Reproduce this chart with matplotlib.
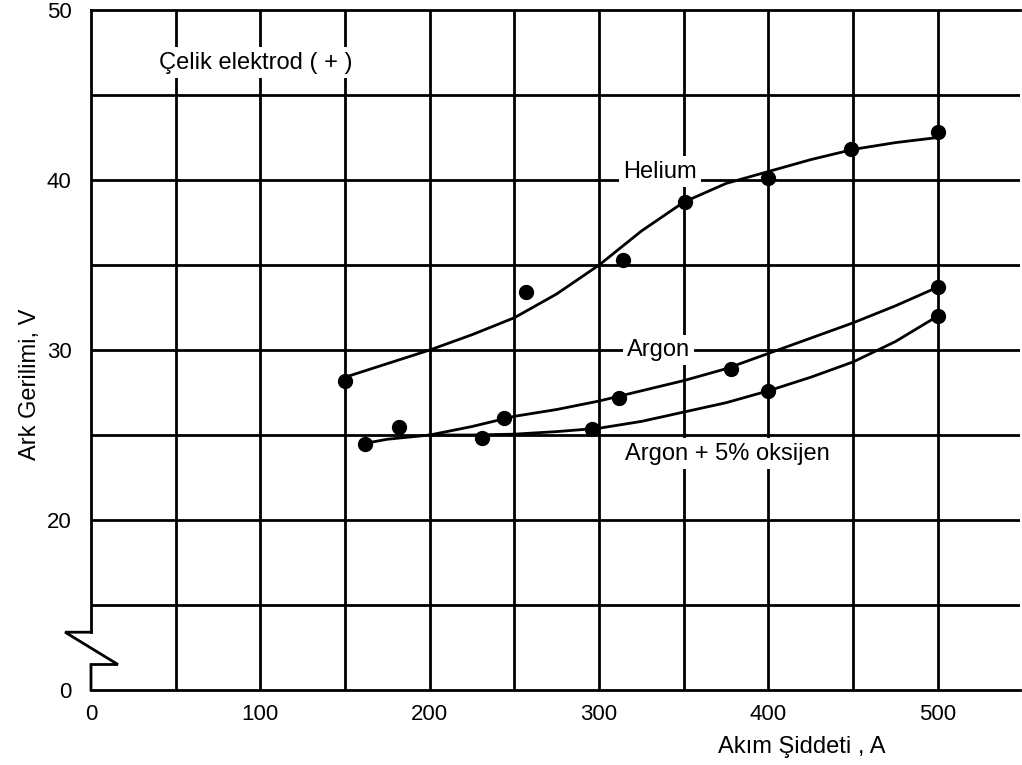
import matplotlib
matplotlib.use("Agg")
import matplotlib.pyplot as plt

# ---- data ----
he_x = [150, 257, 314, 351, 400, 449, 500]
he_y = [28.2, 33.4, 35.3, 38.7, 40.1, 41.8, 42.8]
ar_x = [162, 182, 244, 312, 378, 500]
ar_y = [24.5, 25.5, 26.0, 27.2, 28.9, 33.7]
ox_x = [231, 296, 400, 500]
ox_y = [24.8, 25.35, 27.6, 32.0]

# fitted curves
he_cx = [150, 175, 200, 225, 250, 275, 300, 325, 350, 375, 400, 425, 450, 475, 500]
he_cy = [28.4, 29.2, 30.0, 30.9, 31.9, 33.3, 35.0, 37.0, 38.7, 39.8, 40.5, 41.2, 41.8, 42.2, 42.5]
ar_cx = [164, 175, 200, 225, 250, 275, 300, 325, 350, 375, 400, 425, 450, 475, 500]
ar_cy = [24.55, 24.75, 25.0, 25.5, 26.1, 26.5, 27.0, 27.6, 28.2, 28.9, 29.8, 30.7, 31.6, 32.6, 33.7]
ox_cx = [200, 225, 250, 275, 300, 325, 350, 375, 400, 425, 450, 475, 500]
ox_cy = [25.0, 25.0, 25.05, 25.2, 25.4, 25.8, 26.35, 26.9, 27.6, 28.4, 29.3, 30.5, 32.0]

x_ticks = [0, 100, 200, 300, 400, 500]
y_ticks = [10, 20, 30, 40, 50]
y_tick_labels = ["0", "20", "30", "40", "50"]

FONT = ["Liberation Sans", "DejaVu Sans"]
plt.rcParams["font.family"] = FONT

fig = plt.figure(figsize=(10.22, 7.65), dpi=100)
ax = fig.add_axes([91 / 1022, 75 / 765, 929 / 1022, 680 / 765])
ax.set_xlim(0, 548.5)
ax.set_ylim(10, 50)

LW = 2.0
# grid
for gx in range(50, 549, 50):
    ax.axvline(gx, color="black", lw=LW, zorder=1)
for gy in range(15, 50, 5):
    ax.axhline(gy, color="black", lw=LW, zorder=1)

for s in ["left", "right"]:
    ax.spines[s].set_visible(False)
for s in ["top", "bottom"]:
    ax.spines[s].set_linewidth(LW)

# left axis with break
ax.plot([0, 0], [50, 13.4], color="black", lw=LW, clip_on=False, zorder=3)
ax.plot([0, -15.3, 15.9, 0, 0], [13.4, 13.4, 11.5, 11.5, 10],
        color="black", lw=LW, clip_on=False, zorder=3, solid_joinstyle="miter")

# curves and points
for cx, cy in [(he_cx, he_cy), (ar_cx, ar_cy), (ox_cx, ox_cy)]:
    ax.plot(cx, cy, color="black", lw=2.0, zorder=4, solid_joinstyle="round")
for xs, ys in [(he_x, he_y), (ar_x, ar_y), (ox_x, ox_y)]:
    ax.plot(xs, ys, "o", color="black", ms=10, zorder=5)

box = dict(facecolor="white", edgecolor="none", pad=3)
ax.text(336, 40.5, "Helium", ha="center", va="center", fontsize=17, bbox=box, zorder=3)
ax.text(335, 30.0, "Argon", ha="center", va="center", fontsize=17, bbox=box, zorder=3)
ax.text(376, 23.9, "Argon + 5% oksijen", ha="center", va="center", fontsize=17, bbox=box, zorder=3)
ax.text(97, 46.9, "Çelik elektrod ( + )", ha="center", va="center", fontsize=17, bbox=box, zorder=3)

ax.set_xticks(x_ticks)
ax.set_xticklabels([str(v) for v in x_ticks])
ax.set_yticks(y_ticks)
ax.set_yticklabels(y_tick_labels)
ax.tick_params(axis="both", length=0, labelsize=16)
ax.tick_params(axis="x", pad=10)
ax.tick_params(axis="y", pad=14)

ax.text(0.765, -0.084, "Akım Şiddeti , A", transform=ax.transAxes,
        ha="center", va="center", fontsize=17)
ax.text(-0.066, 0.449, "Ark Gerilimi, V", transform=ax.transAxes,
        ha="center", va="center", rotation=90, fontsize=17)

fig.savefig("out.png", dpi=100, facecolor="white")
